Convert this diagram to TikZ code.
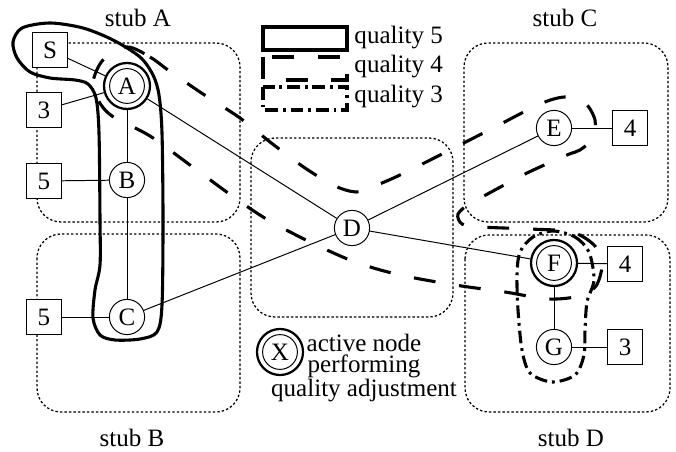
\documentclass[tikz,border=0pt]{standalone}
\usepackage{fontspec}
\setmainfont{Liberation Serif}

\begin{document}
\begin{tikzpicture}[x=0.025cm, y=-0.025cm, line width=0.7pt,
    font=\fontsize{17.8}{14.2}\selectfont,
    stub/.style={line width=0.9pt, dash pattern=on 1.7pt off 1.5pt, rounded corners=0.6cm},
    station/.style={circle, draw, fill=white, minimum size=0.88cm, inner sep=0pt},
    active/.style={circle, draw, fill=white, line width=1.6pt, minimum size=1.15cm, inner sep=0pt,
        path picture={\draw[line width=0.7pt] (path picture bounding box.center) circle (0.435cm);}},
    qbox/.style={rectangle, draw, fill=white, minimum size=0.88cm, inner sep=0pt},
    q5/.style={line width=2.2pt},
    q4/.style={line width=2.2pt, dash pattern=on 15.5pt off 17pt},
    q3/.style={line width=2.2pt, dash pattern=on 9pt off 3.5pt on 2pt off 3.5pt}]
    \useasboundingbox (0, 0) rectangle (676, 452);

    % stubs
    \draw[stub] (37, 43) rectangle (240, 222);
    \draw[stub] (37, 234) rectangle (240, 412);
    \draw[stub] (251, 138) rectangle (453, 317);
    \draw[stub] (464, 43) rectangle (668, 222);
    \draw[stub] (465, 235) rectangle (670, 412);
    \node (stubA) at (138, 18) {stub A};
    \node (stubB) at (132, 438) {stub B};
    \node (stubC) at (565, 18) {stub C};
    \node (stubD) at (571, 438) {stub D};

    % quality regions
    \draw[q5] plot[smooth cycle] coordinates {(13,42) (22,28) (50,23) (83,28) (113,40) (140,57)
        (153,75) (159,95) (162,133) (163,220) (162,305) (157,332) (140,339) (115,340) (100,335)
        (93,318) (95,290) (100,265) (100,220) (99,133) (96,98) (88,84) (75,80) (50,78) (30,72) (17,58)};
    \draw[q4] plot[smooth cycle] coordinates {(127,47) (150,57) (168,70) (200,92) (240,118)
        (270,142) (305,168) (335,186) (356,192) (372,187) (400,175) (450,150) (495,127) (540,104)
        (565,97) (585,103) (595,120) (593,138) (580,150) (567,155) (525,174) (482,197) (470,203)
        (458,214) (462,224) (480,227) (530,229) (572,232) (595,246) (602,265) (596,286) (580,296)
        (548,299) (505,292) (455,285) (400,275) (355,262) (310,242) (268,220) (235,198) (190,165)
        (150,136) (112,116) (98,100) (93,82) (103,60)};
    \draw[q3] plot[smooth cycle] coordinates {(553,231) (575,237) (589,252) (594,280) (587,302)
        (585,330) (584,355) (575,375) (552,382) (530,373) (522,350) (518,310) (517,275) (520,252)
        (533,237)};

    % network
    \node[qbox] (S) at (50, 50) {S};
    \node[active] (A) at (127, 86) {A};
    \node[qbox] (qA) at (44, 110) {3};
    \node[station] (B) at (127, 180) {B};
    \node[qbox] (qB) at (44, 181) {5};
    \node[station] (C) at (127, 317) {C};
    \node[qbox] (qC) at (44, 317) {5};
    \node[station] (D) at (352, 228) {D};
    \node[station] (E) at (554, 128) {E};
    \node[qbox] (qE) at (630, 128) {4};
    \node[active] (F) at (554, 263) {F};
    \node[qbox] (qF) at (625, 264) {4};
    \node[station] (G) at (554, 347) {G};
    \node[qbox] (qG) at (625, 347) {3};

    \draw (S) -- (A);
    \draw (qA) -- (A);
    \draw (A) -- (B) -- (C);
    \draw (qB) -- (B);
    \draw (qC) -- (C);
    \draw (A) -- (D);
    \draw (C) -- (D);
    \draw (D) -- (E);
    \draw (D) -- (F);
    \draw (E) -- (qE);
    \draw (F) -- (qF);
    \draw (F) -- (G) -- (qG);

    % legend
    \draw[q5] (263, 27) rectangle (347, 50);
    \draw[q4] (263, 57) rectangle (347, 80);
    \draw[q3] (263, 87) rectangle (347, 110);
    \node[anchor=west, inner sep=0pt] (l5) at (354, 38) {quality 5};
    \node[anchor=west, inner sep=0pt] (l4) at (354, 67) {quality 4};
    \node[anchor=west, inner sep=0pt] (l3) at (354, 97) {quality 3};
    \node[active] (X) at (280, 352) {X};
    \node[align=center, inner sep=0pt, font=\fontsize{17.8}{15}\selectfont] (note) at (364, 368)
        {active node\\performing\\quality adjustment};
\end{tikzpicture}
\end{document}
